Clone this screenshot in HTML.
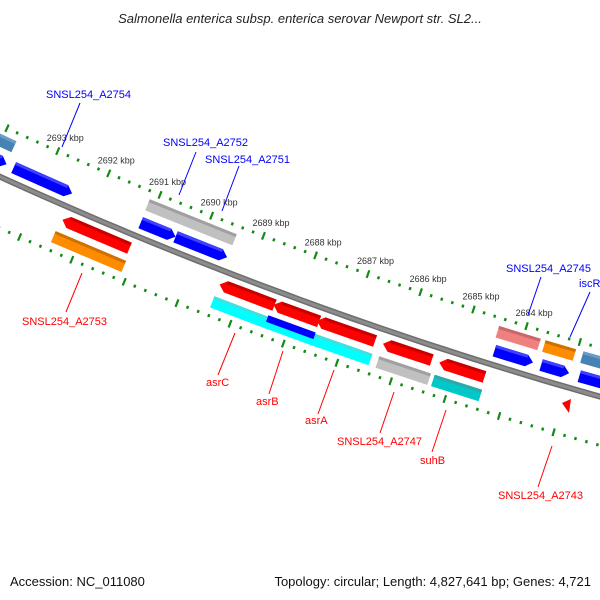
<!DOCTYPE html>
<html><head><meta charset="utf-8"><style>
html,body{margin:0;padding:0;background:#fff;}
svg{display:block;font-family:"Liberation Sans",sans-serif;}
</style></head><body>
<svg id="map" width="600" height="600" viewBox="0 0 600 600">
<text x="300" y="23" text-anchor="middle" font-size="13" font-style="italic" fill="#222">Salmonella enterica subsp. enterica serovar Newport str. SL2...</text>
<g id="ticks"></g>
<g id="backbone"></g>
<g id="feats"></g>
<g id="kbplabels"></g>
<polygon points="562,403 571,399 569,413" fill="#ff0000"/>
<g font-size="11">
<g fill="#0000ff" stroke="none">
<text x="46" y="98">SNSL254_A2754</text>
<text x="163" y="146">SNSL254_A2752</text>
<text x="205" y="163">SNSL254_A2751</text>
<text x="506" y="272">SNSL254_A2745</text>
<text x="579" y="287">iscR</text>
</g>
<g stroke="#0000ff" stroke-width="1">
<line x1="80" y1="103" x2="62" y2="147"/>
<line x1="196" y1="152" x2="179" y2="195"/>
<line x1="239" y1="166" x2="222" y2="211"/>
<line x1="541" y1="277" x2="528" y2="315"/>
<line x1="590" y1="292" x2="570" y2="337"/>
</g>
<g fill="#ff0000">
<text x="22" y="325">SNSL254_A2753</text>
<text x="206" y="386">asrC</text>
<text x="256" y="405">asrB</text>
<text x="305" y="424">asrA</text>
<text x="337" y="445">SNSL254_A2747</text>
<text x="420" y="464">suhB</text>
<text x="498" y="499">SNSL254_A2743</text>
</g>
<g stroke="#ff0000" stroke-width="1">
<line x1="82" y1="273" x2="66" y2="312"/>
<line x1="235" y1="333" x2="218" y2="375"/>
<line x1="283" y1="351" x2="269" y2="394"/>
<line x1="334" y1="370" x2="318" y2="414"/>
<line x1="394" y1="392" x2="380" y2="433"/>
<line x1="446" y1="410" x2="432" y2="452"/>
<line x1="552" y1="446" x2="538" y2="487"/>
</g>
</g>
<text x="10" y="586" font-size="13" fill="#111">Accession: NC_011080</text>
<text x="591" y="586" font-size="13" fill="#111" text-anchor="end">Topology: circular; Length: 4,827,641 bp; Genes: 4,721</text>
</svg>
<script>
// data (kbp)
const kbpTicks = [2693,2692,2691,2690,2689,2688,2687,2686,2685,2684];
const featStart = [2694.7,2693.60,2691.13,2690.46,2684.42,2683.55,2682.84, 2694.8,2691.14,2684.47,2683.60,2682.89, 2692.43,2689.42,2688.40,2687.58,2686.34,2685.29, 2692.46,2689.43,2688.42,2687.56,2688.42,2686.33,2685.30];
const featEnd   = [2693.74,2692.46,2690.46,2689.47,2683.70,2683.03,2681.8, 2693.75,2689.46,2683.69,2683.03,2681.8, 2691.14,2688.38,2687.54,2686.49,2685.43,2684.45, 2691.11,2688.35,2687.53,2686.46,2687.53,2685.37,2684.42];
const featTrack = [-1,-1,-1,-1,-1,-1,-1, -2,-2,-2,-2,-2, 1,1,1,1,1,1, 2,2,2,2,2.5,2,2];
const featType  = ['blue','blue','blue','blue','blue','blue','blue','steel','grey','pink','orange','steel','red','red','red','red','red','red','orange','cyan','cyan','cyan','blue','grey','dcyan'];
const featArrow = ['R','R','R','R','R','R','R','','','','','','L','L','L','L','L','L','','','','','','',''];

const NS='http://www.w3.org/2000/svg';
const CX=1737, CY=-3633, R=4187, A0=113.93, DEG=0.77;
function pt(k,off){const t=(A0-(2693-k)*DEG)*Math.PI/180;const r=R+off;return [CX+r*Math.cos(t),CY+r*Math.sin(t)];}
function P(a){return a[0].toFixed(1)+','+a[1].toFixed(1);}
const colors={blue:['#0000ff','#4040ff'],steel:['#4682b4','#6a9cc8'],grey:['#c0c0c0','#a0a0a0'],pink:['#f08080','#c86868'],orange:['#ff8c00','#d07000'],red:['#ff0000','#c80000'],cyan:['#00ffff','#40e0e0'],dcyan:['#00c8c8','#30a8a8']};
const trackOff={'-1':-14,'-2':-33,'1':14,'2':33,'2.5':29};

// backbone
(function(){const g=document.getElementById('backbone');let pts=[];for(let k=2696;k>=2680;k-=0.25)pts.push(P(pt(k,0)));
[['#6e6e6e',6],['#8c8c8c',3]].forEach(s=>{const pl=document.createElementNS(NS,'polyline');pl.setAttribute('points',pts.join(' '));pl.setAttribute('fill','none');pl.setAttribute('stroke',s[0]);pl.setAttribute('stroke-width',s[1]);


g.appendChild(pl);});})();

// ticks
(function(){const g=document.getElementById('ticks');
for(let i=0;i<=70;i++){const k=2695.6-i*0.2;const major=Math.abs(k-Math.round(k))<0.01;
[-47,47].forEach(off=>{const h=major?4:1.5;const a=pt(k,off-h),b=pt(k,off+h);const l=document.createElementNS(NS,'line');
l.setAttribute('x1',a[0]);l.setAttribute('y1',a[1]);l.setAttribute('x2',b[0]);l.setAttribute('y2',b[1]);l.setAttribute('stroke','#138a13');l.setAttribute('stroke-width',major?2.2:2.4);


g.appendChild(l);});}
const lg=document.getElementById('kbplabels');
kbpTicks.forEach(k=>{const p=pt(k,-47);const t=document.createElementNS(NS,'text');t.setAttribute('x',p[0]-11);t.setAttribute('y',p[1]-10);t.setAttribute('font-size','9');t.setAttribute('fill','#333');t.textContent=k+' kbp';


lg.appendChild(t);});})();

// features
(function(){const g=document.getElementById('feats');
for(let i=0;i<featStart.length;i++){
  const off=trackOff[String(featTrack[i])];const half=featTrack[i]===2.5?3.5:6;
  const rin=off-half, rout=off+half, mid=off;const k1=featStart[i],k2=featEnd[i];const head=0.12;
  let pts;
  if(featArrow[i]==='R'){const kh=k2+head;pts=[pt(k1,rin),pt(kh,rin),pt(k2,mid),pt(kh,rout),pt(k1,rout)];}
  else if(featArrow[i]==='L'){const kh=k1-head;pts=[pt(k2,rin),pt(kh,rin),pt(k1,mid),pt(kh,rout),pt(k2,rout)];}
  else pts=[pt(k1,rin),pt(k2,rin),pt(k2,rout),pt(k1,rout)];
  const c=colors[featType[i]];
  const poly=document.createElementNS(NS,'polygon');poly.setAttribute('points',pts.map(P).join(' '));poly.setAttribute('fill',c[0]);
  
  
  g.appendChild(poly);
  // bevel band on top side
  const ka=featArrow[i]==='L'?k1-head:k1, kb=featArrow[i]==='R'?k2+head:k2;
  const b=document.createElementNS(NS,'polygon');b.setAttribute('points',[pt(ka,rin),pt(kb,rin),pt(kb,rin+3),pt(ka,rin+3)].map(P).join(' '));b.setAttribute('fill',c[1]);
  
  
  if(featTrack[i]!==2.5)g.appendChild(b);
}})();
</script>
</body></html>
